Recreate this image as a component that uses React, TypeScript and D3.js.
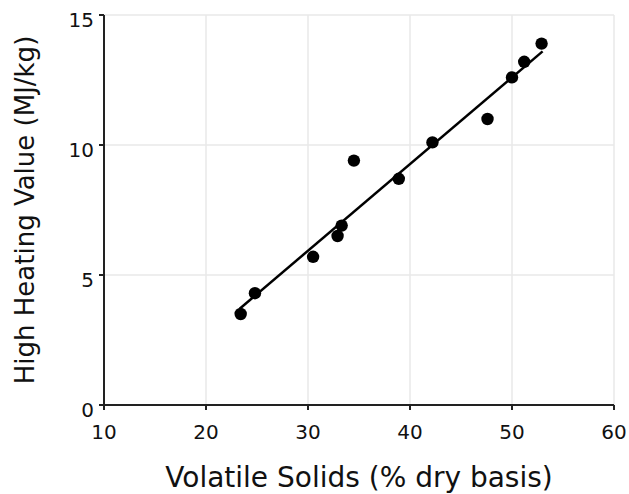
import React from 'react';
import * as d3 from 'd3';

// measured samples
const volatileSolids = [23.4, 24.8, 30.5, 32.9, 33.3, 34.5, 38.9, 42.2, 47.6, 50.0, 51.2, 52.9];
const heatingValue = [3.5, 4.3, 5.7, 6.5, 6.9, 9.4, 8.7, 10.1, 11.0, 12.6, 13.2, 13.9];

// regression line end points
const fitX = [23.3, 53.0];
const fitY = [3.7, 13.6];

const xTicks = [10, 20, 30, 40, 50, 60];
const yTicks = [0, 5, 10, 15];

const width = 629;
const height = 494;
const margin = {top: 15, right: 15, bottom: 89, left: 104};
const font = 'DejaVu Sans, Verdana, sans-serif';

const App = () => {
    const x = d3.scaleLinear().domain([10, 60]).range([margin.left, width - margin.right]);
    const y = d3.scaleLinear().domain([0, 15]).range([height - margin.bottom, margin.top]);

    const line = d3.line<number>()
        .x(d => x(fitX[d]))
        .y(d => y(fitY[d]));

    const x0 = x(10);
    const y0 = y(0);

    return (
        <svg width={width} height={height}
             style={{position: 'absolute', left: 0, top: 0, background: '#fff'}}>
            {/* grid */}
            <g stroke="#e8e8e8" strokeWidth={1.5}>
                {xTicks.slice(1).map(t => (
                    <line key={'gx' + t} x1={x(t)} x2={x(t)} y1={y(15)} y2={y0}/>
                ))}
                {yTicks.slice(1).map(t => (
                    <line key={'gy' + t} x1={x0} x2={x(60)} y1={y(t)} y2={y(t)}/>
                ))}
            </g>

            {/* axes */}
            <g stroke="#222" strokeWidth={2}>
                <line x1={x0} x2={x(60)} y1={y0} y2={y0}/>
                <line x1={x0} x2={x0} y1={y(15)} y2={y0}/>
                {xTicks.map(t => (
                    <line key={'tx' + t} x1={x(t)} x2={x(t)} y1={y0} y2={y0 + 5}/>
                ))}
                {yTicks.map(t => (
                    <line key={'ty' + t} x1={x0} x2={x0 - 5} y1={y(t)} y2={y(t)}/>
                ))}
            </g>

            <g fontFamily={font} fontSize={20} fill="#111">
                {xTicks.map(t => (
                    <text key={'lx' + t} x={x(t)} y={y0 + 34} textAnchor="middle">{t}</text>
                ))}
                {yTicks.map(t => (
                    <text key={'ly' + t} x={x0 - 10} y={y(t) + 12} textAnchor="end">{t}</text>
                ))}
            </g>

            {/* fit line */}
            <path d={line([0, 1]) ?? ''} fill="none" stroke="#000" strokeWidth={2.5}/>

            {/* points */}
            <g fill="#000">
                {volatileSolids.map((v, i) => (
                    <circle key={i} cx={x(v)} cy={y(heatingValue[i])} r={6.2}/>
                ))}
            </g>

            <text x={(x0 + x(60)) / 2} y={487} textAnchor="middle"
                  fontFamily={font} fontSize={28} fill="#111">Volatile Solids (% dry basis)</text>
            <text transform={`translate(34, ${(y(0) + y(15)) / 2}) rotate(-90)`} textAnchor="middle"
                  fontFamily={font} fontSize={26} fill="#111">High Heating Value (MJ/kg)</text>
        </svg>
    );
};

export default App;
